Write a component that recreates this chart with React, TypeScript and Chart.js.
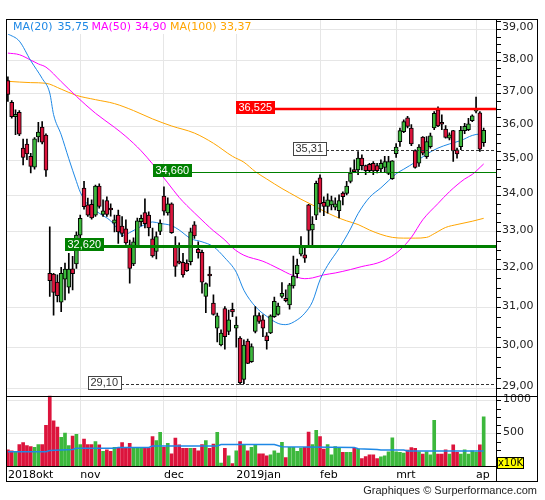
import React, { useEffect, useRef } from "react";
import { Chart, registerables } from "chart.js";

Chart.register(...registerables);

// ---------- categories (trading days) ----------
const monthNames = ["2018okt", "nov", "dec", "2019jan", "feb", "mrt", "ap"];
const monthStart = [0, 19, 41, 60, 82, 102, 123];
const slotCount = 129;

// ---------- OHLC ----------
const opens = [
  37.38, 36.72, 36.29, 36.42, 35.36, 35.48, 35.12, 34.81, 35.69, 35.98,
  35.74, 31.89, 31.87, 31.66, 31.14, 31.74, 31.53, 32.01, 32.14, 32.91,
  34.21, 33.74, 33.76, 33.46, 34.27, 33.48, 33.86, 33.61, 33.24, 33.46,
  33.16, 33.08, 32.65, 32.14, 32.61, 33.28, 33.53, 33.46, 32.81, 32.47,
  33.01, 33.99, 33.52, 33.77, 32.6, 32.2, 32.18, 32.16, 32.2, 33.19,
  32.53, 32.45, 31.29, 31.84, 31.12, 30.48, 30.06, 30.98, 30.4, 30.96,
  30.48, 30.23, 29.22, 30.16, 29.65, 30.4, 30.8, 30.69, 30.29, 30.36,
  30.77, 30.83, 31.29, 31.24, 31.07, 31.56, 31.88, 32.4, 32.38, 33.74,
  33.05, 33.46, 34.5, 33.81, 33.7, 33.74, 33.68, 33.58, 34.07, 34.06,
  34.4, 34.73, 34.73, 35.07, 34.85, 34.89, 34.92, 34.85, 34.76, 34.8,
  34.63, 34.48, 35.2, 35.55, 35.84, 36.25, 35.95, 35.29, 34.92, 35.68,
  35.11, 35.4, 35.95, 36.49, 36.11, 35.92, 35.65, 35.87, 35.31, 35.4,
  35.87, 35.9, 36.17, 36.45, 36.4, 35.52,
];
const highs = [
  37.5, 36.77, 36.49, 36.47, 35.62, 35.62, 35.21, 35.67, 36.12, 36.14,
  35.78, 33.14, 31.89, 31.85, 32.05, 32.16, 32.42, 32.34, 33.0, 33.46,
  34.4, 33.93, 33.88, 34.3, 34.33, 33.88, 33.97, 33.77, 33.46, 33.6,
  33.42, 33.33, 32.78, 32.84, 33.38, 33.46, 33.91, 33.55, 33.1, 33.0,
  33.33, 34.25, 33.94, 33.8, 32.87, 32.7, 32.42, 32.25, 33.1, 33.28,
  32.73, 32.51, 31.64, 32.07, 31.33, 30.86, 30.44, 31.03, 30.94, 31.12,
  30.77, 30.27, 30.19, 30.21, 30.09, 31.03, 30.87, 30.82, 30.37, 30.82,
  31.27, 31.12, 31.65, 31.46, 31.63, 32.35, 32.27, 32.87, 32.56, 33.76,
  33.42, 34.41, 34.59, 33.97, 34.05, 33.99, 33.94, 34.02, 34.11, 34.4,
  34.79, 35.02, 35.26, 35.16, 34.87, 34.92, 34.97, 34.92, 35.02, 35.12,
  35.12, 35.0, 35.49, 35.95, 36.19, 36.3, 36.05, 35.31, 35.46, 35.7,
  35.7, 35.8, 36.44, 36.58, 36.34, 36.02, 35.81, 35.88, 35.36, 36.0,
  36.09, 36.24, 36.34, 36.88, 36.44, 35.95,
];
const lows = [
  36.75, 36.24, 35.75, 35.72, 34.87, 35.02, 34.64, 34.75, 35.54, 35.48,
  34.54, 31.29, 30.81, 31.15, 30.9, 31.2, 31.37, 31.46, 32.02, 32.78,
  33.62, 33.42, 33.35, 33.42, 33.65, 33.42, 33.42, 33.43, 33.0, 32.69,
  32.87, 32.66, 31.63, 32.09, 32.59, 33.16, 33.11, 32.89, 32.32, 32.27,
  32.92, 33.46, 33.46, 32.96, 31.81, 32.14, 31.79, 31.94, 32.11, 32.82,
  32.29, 31.37, 30.87, 31.55, 30.81, 30.14, 30.04, 29.96, 30.32, 30.77,
  30.01, 29.1, 29.12, 29.6, 29.63, 30.36, 30.6, 30.27, 29.96, 30.34,
  30.75, 30.81, 31.25, 31.15, 30.96, 31.5, 31.77, 32.35, 32.18, 32.6,
  32.6, 33.33, 33.54, 33.44, 33.51, 33.6, 33.6, 33.38, 33.74, 34.02,
  34.36, 34.67, 34.59, 34.73, 34.59, 34.68, 34.59, 34.64, 34.65, 34.68,
  34.59, 34.46, 35.09, 35.41, 35.81, 35.95, 35.43, 34.78, 34.83, 35.16,
  35.06, 35.36, 35.9, 35.99, 35.9, 35.65, 35.6, 34.97, 35.07, 35.31,
  35.78, 35.87, 36.14, 36.4, 35.26, 35.41,
];
const closes = [
  36.96, 36.29, 36.36, 35.77, 35.09, 35.19, 34.83, 35.63, 35.83, 35.53,
  34.72, 31.7, 31.39, 31.31, 31.89, 32.0, 32.0, 31.88, 32.91, 33.37,
  33.69, 33.46, 33.38, 34.27, 33.7, 33.58, 33.48, 33.6, 33.33, 33.0,
  32.96, 32.7, 32.02, 32.73, 33.3, 33.37, 33.22, 33.11, 32.35, 32.87,
  33.24, 33.57, 33.77, 32.98, 32.07, 32.16, 31.85, 31.96, 33.0, 32.89,
  32.44, 31.66, 31.62, 31.82, 30.83, 30.79, 30.36, 30.27, 30.69, 30.89,
  30.56, 29.14, 30.06, 29.61, 30.02, 30.8, 30.65, 30.48, 30.17, 30.79,
  31.16, 31.04, 31.37, 31.18, 31.59, 31.82, 32.11, 32.58, 32.29, 33.04,
  33.21, 34.35, 33.77, 33.7, 33.88, 33.86, 33.77, 33.86, 33.97, 34.27,
  34.64, 34.68, 35.07, 34.85, 34.71, 34.71, 34.7, 34.71, 34.92, 34.97,
  34.97, 34.99, 35.39, 35.87, 36.14, 36.0, 35.48, 34.8, 35.39, 35.21,
  35.55, 35.72, 36.39, 36.01, 36.06, 35.67, 35.75, 35.28, 35.19, 35.88,
  36.0, 36.07, 36.31, 36.5, 35.33, 35.88,
];

// ---------- volume (x10K) ----------
const volumes = [
  261, 245, 235, 338, 368, 322, 307, 296, 338, 338,
  629, 1075, 696, 603, 450, 512, 322, 466, 492, 338,
  420, 338, 338, 384, 333, 235, 261, 235, 296, 296,
  368, 296, 358, 296, 296, 282, 296, 282, 461, 399,
  522, 296, 358, 200, 435, 333, 282, 282, 282, 282,
  245, 338, 399, 282, 348, 522, 61, 282, 168, 51,
  245, 384, 338, 245, 296, 333, 200, 200, 168, 184,
  245, 210, 373, 144, 296, 296, 235, 287, 296, 527,
  338, 553, 461, 271, 338, 184, 307, 296, 220, 220,
  220, 282, 271, 128, 159, 184, 184, 128, 154, 168,
  230, 440, 230, 220, 210, 256, 292, 282, 230, 194,
  230, 184, 706, 194, 194, 261, 194, 333, 220, 194,
  261, 194, 245, 220, 333, 757,
];

// ---------- moving averages (read at sample days) ----------
const ma20Points: [number, number][] = [
  [0, 38.85], [3, 38.62], [6, 38.0], [9, 37.45], [11, 37.0], [12, 36.35], [14, 35.75],
  [16, 35.05], [18, 34.4], [19, 34.1], [21, 33.75], [24, 33.51], [27, 33.3], [29, 33.05],
  [30, 32.9], [32, 32.98], [35, 33.15], [38, 33.27], [40, 33.23], [43, 33.17], [45, 33.05],
  [48, 32.82], [51, 32.73], [54, 32.6], [57, 32.3], [60, 31.92], [62, 31.45], [65, 31.03],
  [68, 30.78], [71, 30.6], [73, 30.57], [76, 30.69], [78, 30.86], [80, 31.15], [82, 31.72],
  [84, 32.1], [87, 32.55], [90, 33.08], [92, 33.5], [95, 33.95], [98, 34.22], [100, 34.42],
  [102, 34.62], [104, 34.75], [107, 34.95], [110, 35.18], [113, 35.36], [116, 35.48],
  [119, 35.58], [122, 35.73], [124, 35.77], [125, 35.75],
];
const ma50Points: [number, number][] = [
  [0, 38.24], [3, 38.19], [6, 38.02], [8, 37.9], [10, 37.8], [14, 37.35], [18, 36.9],
  [23, 36.39], [28, 35.97], [31, 35.7], [35, 35.28], [38, 34.9], [42, 34.36], [45, 33.95],
  [49, 33.52], [52, 33.22], [54, 33.03], [57, 32.78], [59, 32.57], [62, 32.37], [67, 32.21],
  [69, 32.12], [72, 31.97], [74, 31.87], [78, 31.75], [80, 31.77], [83, 31.85], [86, 31.9],
  [90, 31.99], [93, 32.07], [97, 32.16], [100, 32.29], [103, 32.51], [106, 32.85],
  [109, 33.33], [113, 33.78], [116, 34.11], [120, 34.47], [122, 34.6], [125, 34.9],
];
const ma100Points: [number, number][] = [
  [0, 37.36], [6, 37.32], [10, 37.3], [14, 37.12], [18, 36.93], [23, 36.8], [28, 36.68],
  [33, 36.47], [38, 36.22], [43, 36.01], [49, 35.8], [54, 35.5], [59, 35.12], [62, 34.95],
  [65, 34.68], [68, 34.47], [72, 34.2], [74, 34.08], [77, 33.9], [80, 33.74], [83, 33.57],
  [86, 33.42], [89, 33.3], [92, 33.2], [95, 33.05], [98, 32.93], [101, 32.85], [104, 32.83],
  [107, 32.83], [110, 32.85], [112, 32.95], [115, 33.12], [118, 33.2], [122, 33.29],
  [125, 33.37],
];
const volMaPoints: [number, number][] = [
  [0, 231], [10, 231], [11, 250], [17, 265], [18, 282], [28, 282], [29, 296], [37, 296],
  [38, 317], [55, 317], [56, 338], [70, 338], [72, 305], [91, 296], [92, 275], [97, 265],
  [98, 256], [104, 256], [105, 241], [125, 241],
];

// ---------- horizontal levels ----------
const levelValues = [36.525, 34.66, 32.62, 35.31, 29.1];
const levelDecimals = [3, 3, 3, 2, 2];
const levelStartDay = [60, 38, 15, 75, 21];

const RED = "#DC143C";
const GREEN = "#3CB83C";
const BLUE = "#1E88E5";
const MAGENTA = "#FF00FF";
const ORANGE = "#FFA500";
const GRID = "#E6E6E6";

const levelStyles = [
  { line: "#FF0000", width: 2.5, dash: [] as number[], fill: "#FF0000", stroke: "", text: "#FFFFFF" },
  { line: "#008000", width: 1, dash: [] as number[], fill: "#008000", stroke: "", text: "#FFFFFF" },
  { line: "#008000", width: 3, dash: [] as number[], fill: "#008000", stroke: "", text: "#FFFFFF" },
  { line: "#333333", width: 1, dash: [3, 2], fill: "#FFFFFF", stroke: "#444444", text: "#333333" },
  { line: "#333333", width: 1, dash: [3, 2], fill: "#FFFFFF", stroke: "#444444", text: "#333333" },
];

const fmt = (v: number, d: number) => v.toFixed(d).replace(".", ",");

function sparse(points: [number, number][]) {
  const arr: (number | null)[] = new Array(slotCount).fill(null);
  points.forEach(([i, v]) => {
    arr[i] = v;
  });
  return arr;
}

const overlayPlugin = {
  id: "overlay",
  afterDatasetsDraw(chart: any) {
    const { ctx, chartArea: area, scales } = chart;
    const ys = scales.y;
    const xs = scales.x;
    ctx.save();
    ctx.beginPath();
    ctx.rect(area.left, area.top, area.right - area.left, ys.bottom - area.top);
    ctx.clip();
    levelValues.forEach((value, k) => {
      const st = levelStyles[k];
      const yRaw = ys.getPixelForValue(value);
      const y = st.width % 2 === 1 ? Math.round(yRaw) + 0.5 : Math.round(yRaw);
      const x0 = Math.round(xs.getPixelForValue(levelStartDay[k]));
      ctx.font = "11px 'Liberation Sans', Arial, sans-serif";
      const text = fmt(value, levelDecimals[k]);
      const bw = Math.round(ctx.measureText(text).width + 5);
      const bh = 13;
      const by = Math.round(yRaw) - 8;
      ctx.strokeStyle = st.line;
      ctx.lineWidth = st.width;
      ctx.setLineDash(st.dash);
      ctx.beginPath();
      ctx.moveTo(x0 + bw, y);
      ctx.lineTo(area.right, y);
      ctx.stroke();
      ctx.setLineDash([]);
      ctx.fillStyle = st.fill;
      ctx.fillRect(x0, by, bw, bh);
      if (st.stroke) {
        ctx.strokeStyle = st.stroke;
        ctx.lineWidth = 1;
        ctx.strokeRect(x0 + 0.5, by + 0.5, bw, bh);
      }
      ctx.fillStyle = st.text;
      ctx.textBaseline = "middle";
      ctx.textAlign = "left";
      ctx.fillText(text, x0 + 2.5, by + bh / 2 + 0.5);
    });

    // MA legend
    ctx.fillStyle = "#FFFFFF";
    ctx.fillRect(area.left + 1, area.top + 1, 243, 14);
    ctx.font = "11px 'DejaVu Sans', sans-serif";
    ctx.textBaseline = "middle";
    ctx.textAlign = "left";
    const ly = area.top + 8;
    const legend = [
      { name: "MA(20)", v: ma20Points[ma20Points.length - 1][1], c: BLUE, x1: 13, x2: 57.5 },
      { name: "MA(50)", v: ma50Points[ma50Points.length - 1][1], c: MAGENTA, x1: 91.5, x2: 135 },
      { name: "MA(100)", v: ma100Points[ma100Points.length - 1][1], c: ORANGE, x1: 170, x2: 220 },
    ];
    legend.forEach((l) => {
      ctx.fillStyle = l.c;
      ctx.fillText(l.name, l.x1, ly);
      ctx.fillText(fmt(l.v, 2), l.x2, ly);
    });
    ctx.restore();
  },
  afterDraw(chart: any) {
    const { ctx, chartArea: area, scales } = chart;
    const ys = scales.y;
    const yv = scales.yv;
    const xs = scales.x;
    ctx.save();
    ctx.strokeStyle = "#000000";
    ctx.lineWidth = 1;
    const L = area.left + 0.5;
    const T = area.top + 0.5;
    const R = ys.right - 0.5;
    const B = xs.bottom - 0.5;
    ctx.strokeRect(L, T, R - L, B - T);
    ctx.beginPath();
    const sep = Math.round(ys.bottom) + 0.5;
    ctx.moveTo(L, sep);
    ctx.lineTo(R, sep);
    const base = area.bottom - 0.5;
    ctx.moveTo(L, base);
    ctx.lineTo(area.right, base);
    ctx.moveTo(area.right - 0.5, T);
    ctx.lineTo(area.right - 0.5, B);
    ctx.stroke();

    // x10K box
    const bx = yv.left;
    const byy = area.bottom - 10;
    ctx.fillStyle = "#FFFF00";
    ctx.fillRect(bx, byy, 26, 12);
    ctx.strokeRect(bx + 0.5, byy + 0.5, 26, 11);
    ctx.fillStyle = "#000000";
    ctx.font = "10px 'DejaVu Sans', sans-serif";
    ctx.textAlign = "center";
    ctx.textBaseline = "middle";
    ctx.fillText("x10K", bx + 13.5, byy + 6.5);

    // footer
    ctx.font = "11px 'Liberation Sans', Arial, sans-serif";
    ctx.textAlign = "right";
    ctx.textBaseline = "middle";
    ctx.fillStyle = "#222222";
    ctx.fillText("Graphiques \u00A9 Surperformance.com", 537, 491);
    ctx.restore();
  },
};

export default function App() {
  const ref = useRef<HTMLCanvasElement>(null);

  useEffect(() => {
    if (!ref.current) return;
    Chart.defaults.font.family = "'DejaVu Sans', sans-serif";
    const labels = Array.from({ length: slotCount }, (_, i) => String(i));
    const candleColors = opens.map((o, i) => (closes[i] >= o ? GREEN : RED));
    const wicks = opens.map((_, i) => [lows[i], highs[i]]);
    const bodies = opens.map((o, i) => [Math.min(o, closes[i]), Math.max(o, closes[i])]);

    const priceTicks: number[] = [];
    for (let v = 29; v <= 39.25; v += 0.25) priceTicks.push(v);
    const volTicks: number[] = [];
    for (let v = 0; v <= 1000; v += 125) volTicks.push(v);

    const chart = new Chart(ref.current, {
      type: "bar",
      data: {
        labels,
        datasets: [
          {
            type: "line",
            label: "MA20",
            data: sparse(ma20Points),
            borderColor: BLUE,
            borderWidth: 1,
            pointRadius: 0,
            spanGaps: true,
            cubicInterpolationMode: "monotone",
            yAxisID: "y",
            order: 3,
          },
          {
            type: "line",
            label: "MA50",
            data: sparse(ma50Points),
            borderColor: MAGENTA,
            borderWidth: 1,
            pointRadius: 0,
            spanGaps: true,
            cubicInterpolationMode: "monotone",
            yAxisID: "y",
            order: 3,
          },
          {
            type: "line",
            label: "MA100",
            data: sparse(ma100Points),
            borderColor: ORANGE,
            borderWidth: 1,
            pointRadius: 0,
            spanGaps: true,
            cubicInterpolationMode: "monotone",
            yAxisID: "y",
            order: 3,
          },
          {
            type: "bar",
            label: "wick",
            data: wicks as any,
            backgroundColor: "#000000",
            borderWidth: 0,
            barThickness: 1,
            grouped: false,
            yAxisID: "y",
            order: 2,
          },
          {
            type: "bar",
            label: "body",
            data: bodies as any,
            backgroundColor: candleColors,
            borderColor: "#000000",
            borderWidth: 1,
            borderSkipped: false,
            barThickness: 4,
            minBarLength: 2,
            grouped: false,
            yAxisID: "y",
            order: 1,
          },
          {
            type: "bar",
            label: "volume",
            data: volumes,
            backgroundColor: candleColors,
            borderWidth: 0,
            barThickness: 3,
            grouped: false,
            yAxisID: "yv",
            order: 1,
          },
          {
            type: "line",
            label: "volMA",
            data: sparse(volMaPoints),
            borderColor: BLUE,
            borderWidth: 1.5,
            pointRadius: 0,
            spanGaps: true,
            yAxisID: "yv",
            order: 0,
          },
        ],
      },
      options: {
        animation: false,
        responsive: false,
        devicePixelRatio: 1,
        layout: { padding: { left: 6, top: 19, right: 7, bottom: 18 } },
        plugins: { legend: { display: false }, tooltip: { enabled: false } },
        scales: {
          x: {
            type: "category",
            offset: true,
            grid: {
              offset: false,
              drawTicks: false,
              color: (c: any) =>
                c.index > 0 && monthStart.includes(c.index) ? GRID : "rgba(0,0,0,0)",
            },
            border: { display: false },
            ticks: {
              autoSkip: false,
              maxRotation: 0,
              minRotation: 0,
              align: "start",
              padding: 2,
              color: "#000000",
              font: { size: 11 },
              callback: (_v: any, i: number) => {
                const k = monthStart.indexOf(i);
                return k >= 0 ? monthNames[k] : "";
              },
            },
            afterFit: (s: any) => {
              s.height = 15;
            },
          },
          y: {
            type: "logarithmic",
            position: "right",
            stack: "panels",
            stackWeight: 376.5,
            min: 28.835,
            max: 39.33,
            afterBuildTicks: (s: any) => {
              s.ticks = priceTicks.map((v) => ({ value: v }));
            },
            grid: {
              color: (c: any) =>
                c.tick && Number.isInteger(c.tick.value) ? GRID : "rgba(0,0,0,0)",
              tickColor: "#000000",
              tickLength: 4,
            },
            border: { display: false },
            ticks: {
              autoSkip: false,
              padding: 1,
              labelOffset: -2,
              color: "#222222",
              font: { size: 11 },
              callback: (v: any) => (Number.isInteger(v) ? fmt(Number(v), 2) : ""),
            },
            afterFit: (s: any) => {
              s.width = 41;
            },
          },
          yv: {
            type: "linear",
            position: "right",
            stack: "panels",
            stackWeight: 71.5,
            min: 0,
            max: 1080,
            afterBuildTicks: (s: any) => {
              s.ticks = volTicks.map((v) => ({ value: v }));
            },
            grid: {
              color: (c: any) =>
                c.tick && (c.tick.value === 500 || c.tick.value === 1000) ? GRID : "rgba(0,0,0,0)",
              tickColor: "#000000",
              tickLength: 4,
            },
            border: { display: false },
            ticks: {
              autoSkip: false,
              padding: 2,
              labelOffset: -2,
              color: "#222222",
              font: { size: 11 },
              callback: (v: any) => (v === 500 || v === 1000 ? String(v) : ""),
            },
            afterFit: (s: any) => {
              s.width = 41;
            },
          },
        },
      },
      plugins: [overlayPlugin],
    });

    return () => chart.destroy();
  }, []);

  return (
    <div style={{ position: "absolute", left: 0, top: 0, width: 545, height: 500, background: "#fff" }}>
      <canvas ref={ref} width={545} height={500} style={{ width: 545, height: 500, display: "block" }} />
    </div>
  );
}
